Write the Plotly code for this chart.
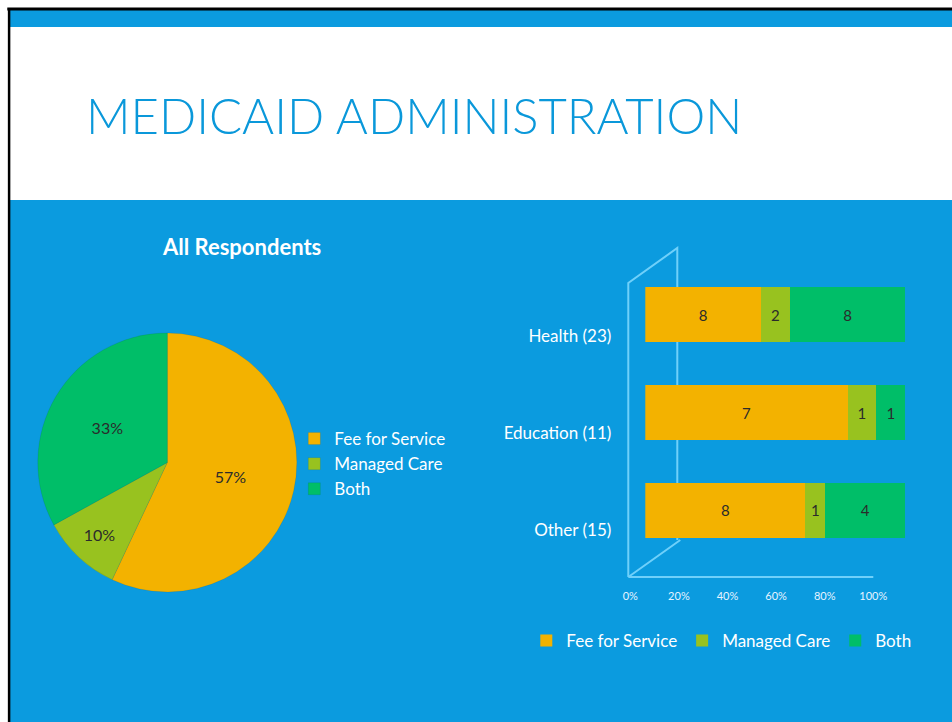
import plotly.graph_objects as go

# ---- data ----
pie_labels = ["Fee for Service", "Managed Care", "Both"]
pie_values = [57, 10, 33]

categories = ["Health (23)", "Education (11)", "Other (15)"]
series_names = ["Fee for Service", "Managed Care", "Both"]
fee_for_service = [8, 7, 8]
managed_care = [2, 1, 1]
both = [8, 1, 4]
x_ticks = [0, 20, 40, 60, 80, 100]

colors = ["#F3B200", "#98C21F", "#00BE68"]
BG = "#0B9BDF"
W, H = 952, 722
# effective horizontal placement of the plot inside the photographed page
X0, WE = 7.7, 930.0


def py(p):  # pixel y -> paper fraction
    return 1 - p / H


def px(p):  # pixel x -> paper fraction
    return (p - X0) / WE


fig = go.Figure()

# Pie
fig.add_trace(go.Pie(
    labels=pie_labels, values=pie_values, sort=False, direction="clockwise",
    rotation=0, marker=dict(colors=colors, line=dict(color="rgba(0,0,0,0.15)", width=0.5)),
    texttemplate="%{value}%", textposition="inside", insidetextorientation="horizontal",
    textfont=dict(color="#2b2b2b", size=16, family="Lato"),
    domain=dict(x=[px(37), px(297)], y=[py(592), py(333)]),
    legend="legend", hoverinfo="label+percent",
))

# Bars (100% stacked)
for name, vals, c in zip(series_names, [fee_for_service, managed_care, both], colors):
    fig.add_trace(go.Bar(
        y=categories, x=vals, name=name, orientation="h",
        marker=dict(color=c, line=dict(width=0)),
        text=[str(v) for v in vals], textposition="inside", insidetextanchor="middle",
        textfont=dict(color="#2b2b2b", size=15, family="Lato"),
        xaxis="x3", yaxis="y3", legend="legend2", width=0.56,
    ))

# invisible trace carrying the category labels and percent ticks
fig.add_trace(go.Scatter(
    x=[50] * len(categories), y=categories, mode="markers",
    marker=dict(opacity=0), xaxis="x2", yaxis="y2", showlegend=False, hoverinfo="skip",
))

fig.update_layout(
    width=W, height=H, autosize=False,
    margin=dict(l=0, r=0, t=0, b=0),
    paper_bgcolor="white", plot_bgcolor="rgba(0,0,0,0)",
    barmode="stack", barnorm="percent",
    font=dict(family="Lato", color="white"),
    xaxis3=dict(domain=[px(645), px(905)], range=[0, 100], visible=False, anchor="y3"),
    yaxis3=dict(domain=[py(559), py(266)], range=[2.5, -0.5], visible=False, anchor="x3"),
    xaxis2=dict(domain=[px(630), px(873)], range=[0, 100], tickvals=x_ticks,
                ticktext=[f"{t}%" for t in x_ticks], showgrid=False, zeroline=False,
                showline=False, ticks="", tickfont=dict(size=11, color="#E6F4FF"),
                anchor="y2", ticklabelstandoff=9),
    yaxis2=dict(domain=[py(579), py(287)], range=[2.5, -0.5], showgrid=False,
                zeroline=False, showline=False, ticks="", anchor="x2",
                tickfont=dict(size=17, color="white"), ticklabelstandoff=18),
    legend=dict(x=px(294), y=py(421), xanchor="left", yanchor="top",
                bgcolor="rgba(0,0,0,0)", font=dict(size=17, color="white"),
                itemwidth=30, tracegroupgap=0),
    legend2=dict(orientation="h", x=px(526), y=py(623), xanchor="left", yanchor="top",
                 traceorder="normal",
                 bgcolor="rgba(0,0,0,0)", font=dict(size=17, color="white")),
    shapes=[
        # slide background bands
        dict(type="rect", xref="paper", yref="paper", x0=px(9), x1=1.02, y0=-0.01, y1=py(200),
             fillcolor=BG, line=dict(width=0), layer="below"),
        dict(type="rect", xref="paper", yref="paper", x0=px(9), x1=1.02, y0=py(27), y1=py(9),
             fillcolor=BG, line=dict(width=0), layer="below"),
        # black frame edges
        dict(type="line", xref="paper", yref="paper", x0=px(8.8), x1=px(8.8), y0=-0.01, y1=py(8),
             line=dict(color="black", width=2.5)),
        dict(type="line", xref="paper", yref="paper", x0=px(7), x1=1.02, y0=py(9), y1=py(9),
             line=dict(color="black", width=3)),
        # 3D wall outline
        dict(type="path", xref="paper", yref="paper",
             path=f"M {px(628)} {py(577)} L {px(628)} {py(283)} L {px(677)} {py(248)} L {px(677)} {py(540)}",
             line=dict(color="#6FD0FA", width=2), layer="below"),
        dict(type="path", xref="paper", yref="paper",
             path=f"M {px(628)} {py(577)} L {px(680)} {py(540)} M {px(628)} {py(577)} L {px(873)} {py(577)}",
             line=dict(color="#6FD0FA", width=2), layer="below"),
    ],
    annotations=[
        dict(text="MEDICAID ADMINISTRATION", xref="paper", yref="paper", x=px(84), y=py(115),
             xanchor="left", yanchor="middle", showarrow=False,
             font=dict(family="Lato", size=49, color="#0A98DA", weight=300)),
        dict(text="<b>All Respondents</b>", xref="paper", yref="paper", x=px(241), y=py(247),
             xanchor="center", yanchor="middle", showarrow=False,
             font=dict(family="Lato", size=22, color="white")),
    ],
)

post = (
    "document.documentElement.style.overflow='hidden';"
    "document.body.style.margin='0';document.body.style.overflow='hidden';"
)
fig.write_html("out.html", config={"displayModeBar": False}, post_script=post)
